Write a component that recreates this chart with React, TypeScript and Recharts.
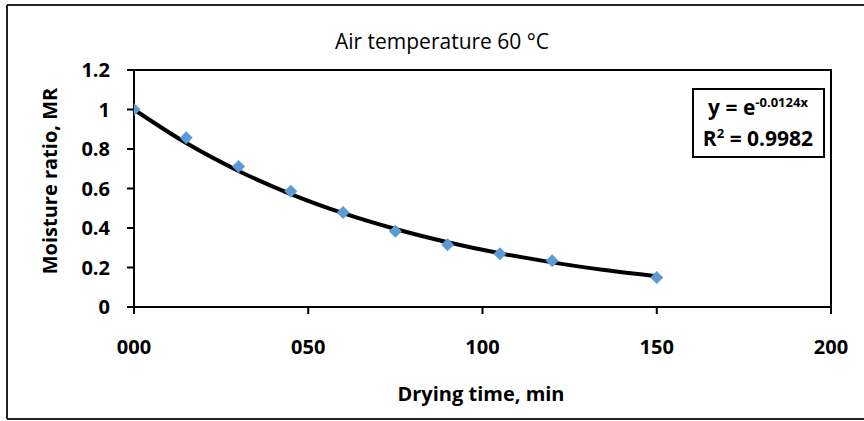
import React from "react";
import { ComposedChart, Scatter, Line, XAxis, YAxis, ReferenceArea } from "recharts";

const timeMin = [0, 15, 30, 45, 60, 75, 90, 105, 120, 150];
const moistureRatio = [1.0, 0.857, 0.712, 0.586, 0.479, 0.383, 0.315, 0.269, 0.234, 0.149];

const trendTime = [0, 15, 30, 45, 60, 75, 90, 105, 120, 135, 150];
const trendValues = [1.0, 0.83, 0.689, 0.572, 0.475, 0.395, 0.328, 0.272, 0.226, 0.187, 0.156];

const xTicks = [0, 50, 100, 150, 200];
const yTicks = [0, 0.2, 0.4, 0.6, 0.8, 1, 1.2];
const yTickLabels = ["0", "0.2", "0.4", "0.6", "0.8", "1", "1.2"];

const titleText = "Air temperature 60 °C";
const xLabel = "Drying time, min";
const yLabel = "Moisture ratio, MR";

const pointData = timeMin.map((t, i) => ({ t, mr: moistureRatio[i] }));
const trendData = trendTime.map((t, i) => ({ t, fit: trendValues[i] }));

const FONT = "'Open Sans', Lato, sans-serif";

const Diamond = (props: any) => {
  const { cx, cy } = props;
  if (cx == null || cy == null) return null;
  const r = 6.5;
  return (
    <polygon
      points={`${cx},${cy - r} ${cx + r},${cy} ${cx},${cy + r} ${cx - r},${cy}`}
      fill="#5b9bd5"
    />
  );
};

export default function App() {
  return (
    <div
      style={{
        position: "fixed",
        left: 0,
        top: 0,
        width: 864,
        height: 421,
        background: "#fff",
      }}
    >
      <div style={{ position: "absolute", left: 0, top: 0 }}>
        <ComposedChart
          width={864}
          height={421}
          margin={{ top: 70, right: 33, left: 0, bottom: 0 }}
        >
          <XAxis
            xAxisId="main"
            dataKey="t"
            type="number"
            domain={[0, 200]}
            ticks={xTicks}
            tickFormatter={(v: number) => String(v).padStart(3, "0")}
            height={114}
            axisLine={{ stroke: "#000", strokeWidth: 2 }}
            tickLine={{ stroke: "#000", strokeWidth: 2 }}
            tickSize={7}
            tickMargin={26}
            tick={{ fill: "#000", fontSize: 20, fontWeight: 700, fontFamily: FONT }}
            allowDataOverflow
          />
          <YAxis
            yAxisId="main"
            type="number"
            domain={[0, 1.2]}
            ticks={yTicks}
            tickFormatter={(v: number) => yTickLabels[yTicks.indexOf(v)] ?? String(v)}
            width={134}
            axisLine={{ stroke: "#000", strokeWidth: 2 }}
            tickLine={{ stroke: "#000", strokeWidth: 2 }}
            tickSize={7}
            tickMargin={17}
            tick={{ fill: "#000", fontSize: 20, fontWeight: 700, fontFamily: FONT }}
          />
          <ReferenceArea
            xAxisId="main"
            yAxisId="main"
            x1={0}
            x2={200}
            y1={0}
            y2={1.2}
            fill="none"
            fillOpacity={0}
            stroke="#000"
            strokeWidth={2}
            ifOverflow="visible"
          />
          <Scatter
            xAxisId="main"
            yAxisId="main"
            data={pointData}
            dataKey="mr"
            shape={<Diamond />}
            isAnimationActive={false}
          />
          <Line
            xAxisId="main"
            yAxisId="main"
            data={trendData}
            dataKey="fit"
            type="monotone"
            stroke="#000"
            strokeWidth={4}
            dot={false}
            activeDot={false}
            isAnimationActive={false}
          />
        </ComposedChart>
      </div>
      <svg
        width={864}
        height={421}
        style={{ position: "absolute", left: 0, top: 0, pointerEvents: "none" }}
      >
        <line x1={7} y1={5} x2={864} y2={5} stroke="#222" strokeWidth={2} />
        <line x1={7} y1={5} x2={7} y2={419} stroke="#222" strokeWidth={2} />
        <line x1={7} y1={419} x2={864} y2={419} stroke="#222" strokeWidth={2} />
        <text
          x={442}
          y={49}
          textAnchor="middle"
          fontFamily={FONT}
          fontSize={21}
          fontWeight={500}
          fill="#000"
        >
          {titleText}
        </text>
        <text
          x={481}
          y={401}
          textAnchor="middle"
          fontFamily={FONT}
          fontSize={20}
          fontWeight={700}
          fill="#000"
        >
          {xLabel}
        </text>
        <text
          x={57}
          y={181}
          textAnchor="middle"
          transform="rotate(-90, 57, 181)"
          fontFamily={FONT}
          fontSize={20}
          fontWeight={700}
          fill="#000"
        >
          {yLabel}
        </text>
        <rect x={693} y={89} width={131} height={68} fill="#fff" stroke="#000" strokeWidth={2} />
        <text
          x={758}
          y={115}
          textAnchor="middle"
          fontFamily={FONT}
          fontSize={21}
          fontWeight={700}
          fill="#000"
        >
          y = e
          <tspan fontSize={13} dy={-8}>-0.0124x</tspan>
        </text>
        <text
          x={758}
          y={146}
          textAnchor="middle"
          fontFamily={FONT}
          fontSize={21}
          fontWeight={700}
          fill="#000"
        >
          R<tspan fontSize={13} dy={-8}>2</tspan>
          <tspan dy={8}> = 0.9982</tspan>
        </text>
      </svg>
    </div>
  );
}
